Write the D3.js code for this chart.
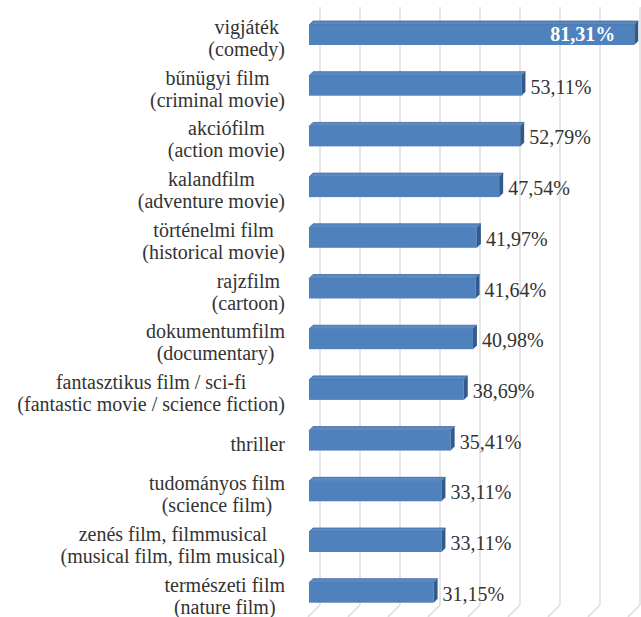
<!DOCTYPE html>
<html>
<head>
<meta charset="utf-8">
<script src="https://cdn.jsdelivr.net/npm/d3@7"></script>
<style>
  body { margin: 0; background: #fff; }
  text { font-family: "Liberation Serif", "Times New Roman", Tinos, "DejaVu Serif", "Noto Serif", serif; }
</style>
</head>
<body>
<svg width="641" height="617"></svg>
<script>
// film genres (Hungarian) and their English translation
var categories = ["vigjáték", "bűnügyi film", "akciófilm", "kalandfilm", "történelmi film", "rajzfilm",
  "dokumentumfilm", "fantasztikus film / sci-fi", "thriller", "tudományos film",
  "zenés film, filmmusical", "természeti film"];
var translations = ["(comedy)", "(criminal movie)", "(action movie)", "(adventure movie)", "(historical movie)",
  "(cartoon)", "(documentary)", "(fantastic movie / science fiction)", "", "(science film)",
  "(musical film, film musical)", "(nature film)"];
var values = [81.31, 53.11, 52.79, 47.54, 41.97, 41.64, 40.98, 38.69, 35.41, 33.11, 33.11, 31.15];
var labels = ["81,31%", "53,11%", "52,79%", "47,54%", "41,97%", "41,64%", "40,98%", "38,69%", "35,41%",
  "33,11%", "33,11%", "31,15%"];
var ticks = [0, 10, 20, 30, 40, 50, 60, 70, 80];

var serif = '"Liberation Serif", "Times New Roman", Tinos, "DejaVu Serif", "Noto Serif", serif';
var svg = d3.select("svg");

var frontX = 309;   // zero of bar front faces
var backX = 320;    // zero on the back wall
var depth = 4;      // bar depth offset
var barH = 20;
var gridTop = 7, gridBottom = 605, floorDepth = 12;

var xScale = d3.scaleLinear().domain([0, 80]).range([0, 320]);
var yScale = d3.scalePoint().domain(d3.range(categories.length)).range([35, 592.7]);

// gridlines on the back wall + floor slant
var grid = svg.append("g");
ticks.forEach(function(t) {
  var gx = backX + xScale(t);
  grid.append("line")
    .attr("x1", gx).attr("x2", gx)
    .attr("y1", gridTop).attr("y2", gridBottom)
    .attr("stroke", "#d9d9d9").attr("stroke-width", 1.3);
  grid.append("line")
    .attr("x1", gx).attr("x2", gx - floorDepth)
    .attr("y1", gridBottom).attr("y2", gridBottom + floorDepth)
    .attr("stroke", "#d9d9d9").attr("stroke-width", 1.3);
});

var bars = svg.selectAll(".bar")
  .data(values)
  .enter()
  .append("g")
  .attr("class", "bar");

// top face
bars.append("path")
  .attr("d", function(d, i) {
    var c = yScale(i), xe = frontX + xScale(d), y0 = c - barH / 2;
    return "M" + frontX + "," + y0 + "L" + (frontX + depth) + "," + (y0 - depth) +
      "L" + (xe + depth) + "," + (y0 - depth) + "L" + xe + "," + y0 + "Z";
  })
  .attr("fill", "#5a89c4")
  .attr("stroke", "#3c679c")
  .attr("stroke-width", 0.8);

// front face
bars.append("rect")
  .attr("x", frontX)
  .attr("y", (d, i) => yScale(i) - barH / 2)
  .attr("width", d => xScale(d))
  .attr("height", barH)
  .attr("fill", "#4f81bd");

// side face
bars.append("path")
  .attr("d", function(d, i) {
    var c = yScale(i), xe = frontX + xScale(d), y0 = c - barH / 2;
    return "M" + xe + "," + y0 + "L" + (xe + depth) + "," + (y0 - depth) +
      "L" + (xe + depth) + "," + (y0 + barH - depth) + "L" + xe + "," + (y0 + barH) + "Z";
  })
  .attr("fill", "#325a8c");

// value labels
svg.selectAll(".val")
  .data(values)
  .enter()
  .append("text")
  .attr("class", "val")
  .style("font-family", serif)
  .attr("x", (d, i) => i === 0 ? frontX + xScale(d) - 19 : frontX + xScale(d) + 9)
  .attr("y", (d, i) => yScale(i) + (i === 0 ? 6 : 8))
  .attr("text-anchor", (d, i) => i === 0 ? "end" : "start")
  .style("font-size", "20px")
  .style("font-weight", (d, i) => i === 0 ? "bold" : "normal")
  .attr("fill", (d, i) => i === 0 ? "#ffffff" : "#333333")
  .text((d, i) => labels[i]);

// category labels: lines centred on each other, block right aligned
var labelRight = 285;
categories.forEach(function(cat, i) {
  var lines = translations[i] ? [cat, translations[i]] : [cat];
  var c = yScale(i) + 10;
  var g = svg.append("g");
  var texts = lines.map(function(l, j) {
    return g.append("text")
      .style("font-family", serif)
      .style("font-size", "20px")
      .attr("y", c + (j - (lines.length - 1) / 2) * 22)
      .attr("text-anchor", "middle")
      .attr("fill", "#333333")
      .text(l);
  });
  var w = d3.max(texts, t => t.node().getComputedTextLength());
  texts.forEach(t => t.attr("x", labelRight - w / 2));
});
</script>
</body>
</html>
